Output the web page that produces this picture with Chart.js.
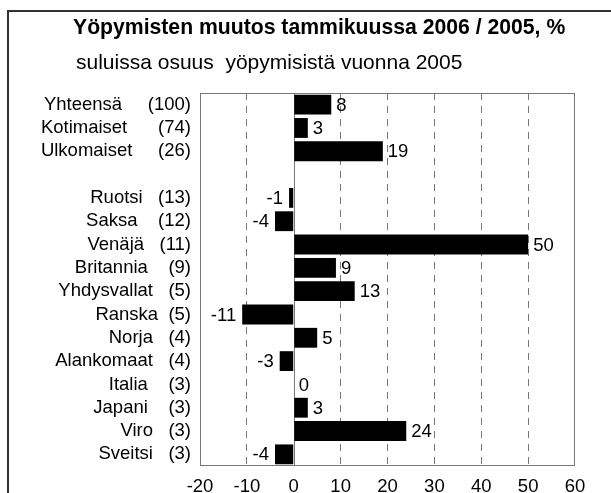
<!DOCTYPE html>
<html><head><meta charset="utf-8">
<script src="https://cdn.jsdelivr.net/npm/chart.js@4/dist/chart.umd.min.js"></script>
<style>html,body{margin:0;padding:0;background:#fff;}</style>
</head><body>
<canvas id="c" width="611" height="493"></canvas>
<script>
const categories = ["Yhteensä","Kotimaiset","Ulkomaiset","","Ruotsi","Saksa","Venäjä","Britannia","Yhdysvallat","Ranska","Norja","Alankomaat","Italia","Japani","Viro","Sveitsi"];
const shares = [100,74,26,null,13,12,11,9,5,5,4,4,3,3,3,3];
const changes = [8,3,19,null,-1,-4,50,9,13,-11,5,-3,0,3,24,-4];
const gapSpaces = [5,6,5,0,3,4,3,4,3,2,3,3,4,4,3,3];
const xMin = -20, xMax = 60, xStep = 10;
const titleText = "Yöpymisten muutos tammikuussa 2006 / 2005, %";
const subtitleText = "suluissa osuus  yöpymisistä vuonna 2005";

const FONT = '"Liberation Sans", Arial, sans-serif';
const labels = categories.map((n,i) => n ? n + '\u00A0'.repeat(gapSpaces[i]) + '(' + shares[i] + ')' : '');

const framePlugin = {
  id: 'frame',
  beforeDraw(chart) {
    const ctx = chart.ctx;
    ctx.save();
    ctx.fillStyle = '#fff';
    ctx.fillRect(0, 0, chart.width, chart.height);
    ctx.strokeStyle = '#333';
    ctx.lineWidth = 2;
    ctx.beginPath();
    ctx.moveTo(8, 493); ctx.lineTo(8, 11); ctx.lineTo(611, 11);
    ctx.stroke();
    ctx.fillStyle = '#000';
    ctx.textAlign = 'left';
    ctx.textBaseline = 'alphabetic';
    ctx.font = 'bold 21.2px ' + FONT;
    ctx.fillText(titleText, 73, 34);
    ctx.font = '21px ' + FONT;
    ctx.fillText(subtitleText, 76, 69);
    ctx.restore();
  },
  beforeDatasetsDraw(chart) {
    const {ctx, chartArea: a, scales: {x}} = chart;
    ctx.save();
    ctx.strokeStyle = '#777';
    ctx.lineWidth = 1;
    ctx.strokeRect(a.left + 0.5, a.top + 0.5, a.right - a.left - 1, a.bottom - a.top - 1);
    const x0 = Math.round(x.getPixelForValue(0)) + 0.5;
    ctx.beginPath(); ctx.moveTo(x0, a.top); ctx.lineTo(x0, a.bottom); ctx.stroke();
    ctx.restore();
  },
  afterDatasetsDraw(chart) {
    const ctx = chart.ctx;
    const meta = chart.getDatasetMeta(0);
    ctx.save();
    ctx.fillStyle = '#000';
    ctx.font = '18.5px ' + FONT;
    ctx.textBaseline = 'middle';
    meta.data.forEach((el, i) => {
      const v = changes[i];
      if (v === null || v === undefined) return;
      if (v < 0) { ctx.textAlign = 'right'; ctx.fillText(String(v), el.x - 6, el.y + 1); }
      else { ctx.textAlign = 'left'; ctx.fillText(String(v), el.x + 5, el.y + 1); }
    });
    ctx.restore();
  }
};

new Chart(document.getElementById('c'), {
  type: 'bar',
  data: {
    labels: labels,
    datasets: [{
      data: changes,
      backgroundColor: '#000',
      borderWidth: 0,
      barPercentage: 0.85,
      categoryPercentage: 1
    }]
  },
  options: {
    indexAxis: 'y',
    responsive: false,
    animation: false,
    devicePixelRatio: 1,
    layout: { padding: { top: 93, right: 36, bottom: 0, left: 0 } },
    plugins: { legend: { display: false }, tooltip: { enabled: false } },
    scales: {
      x: {
        min: xMin, max: xMax,
        ticks: { stepSize: xStep, color: '#000', font: { size: 18.5, family: FONT }, padding: 10 },
        grid: {
          drawTicks: false,
          color: (c) => (c.tick && (c.tick.value === xMin || c.tick.value === xMax || c.tick.value === 0)) ? 'rgba(0,0,0,0)' : '#777',
          lineWidth: 1
        },
        border: { display: false, dash: [7, 6] },
        afterFit: (s) => { s.height = 27; }
      },
      y: {
        grid: { display: false, drawTicks: false },
        border: { display: false },
        ticks: { color: '#000', font: { size: 18.5, family: FONT }, padding: 9, autoSkip: false },
        afterFit: (s) => { s.width = 200; }
      }
    }
  },
  plugins: [framePlugin]
});
</script>
</body></html>
